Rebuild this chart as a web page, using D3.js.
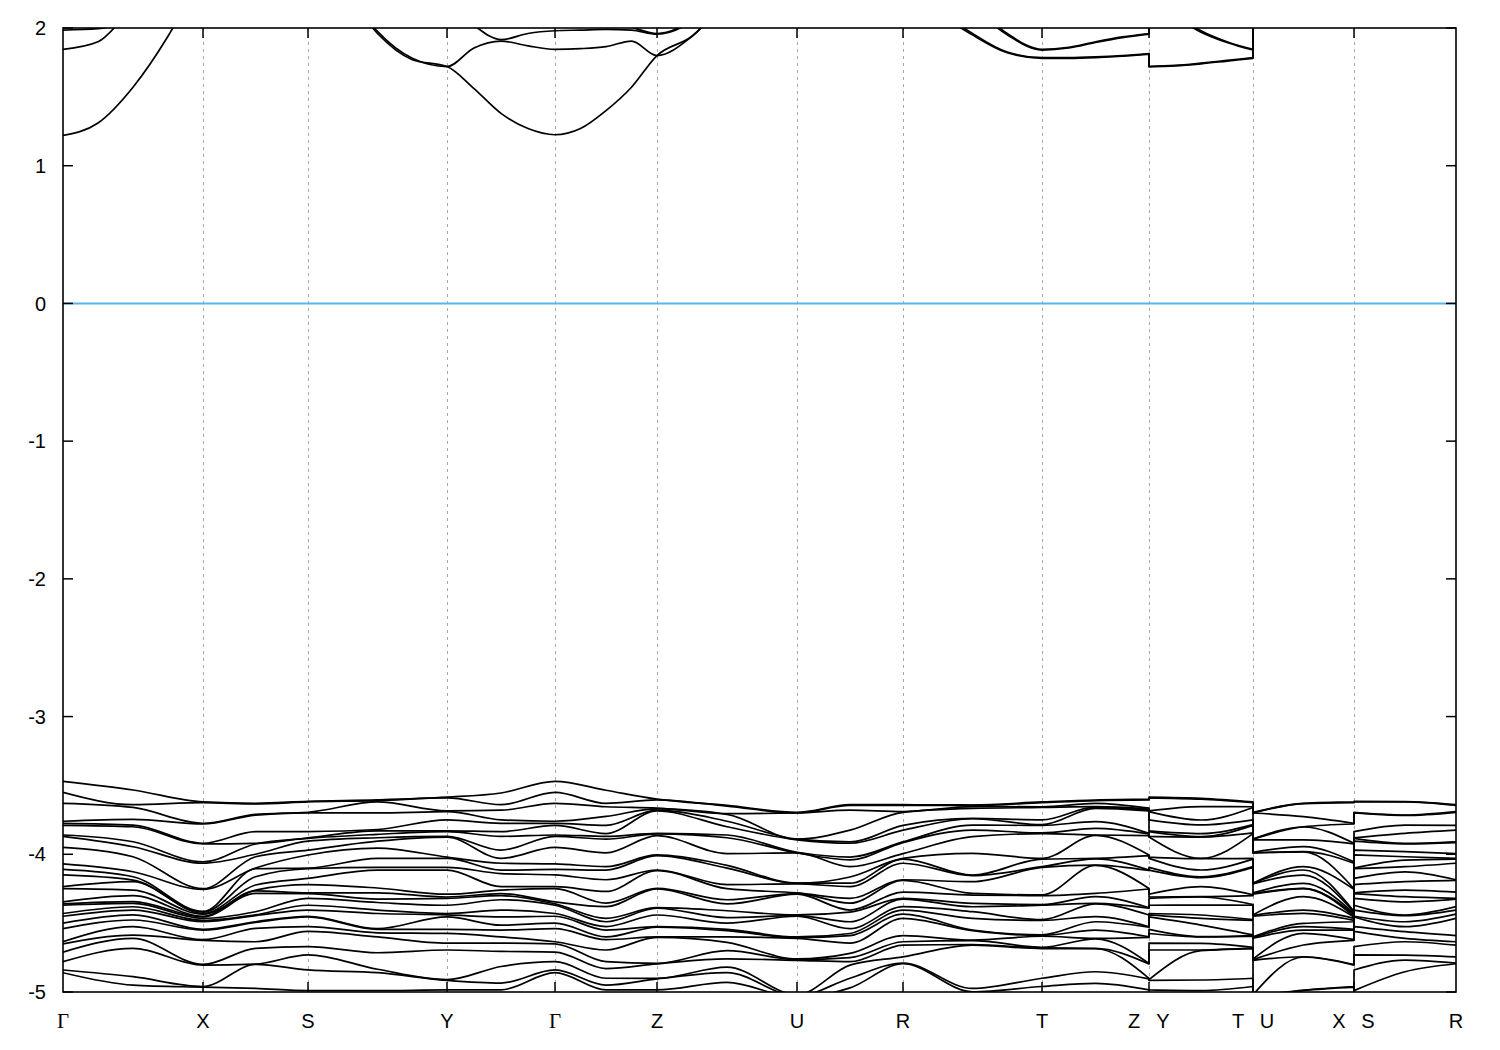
<!DOCTYPE html>
<html><head><meta charset="utf-8">
<script src="https://cdn.jsdelivr.net/npm/d3@7"></script>
<style>body{margin:0;background:#fff}svg{display:block}</style>
</head><body>
<svg id="chart" width="1500" height="1050"></svg>
<script>
// ---------- k-path (high-symmetry points) ----------
const kLabels = ["Γ","X","S","Y","Γ","Z","U","R","T","Z Y","T U","X S","R"];
const kTicks  = [0, 0.140, 0.245, 0.384, 0.492, 0.594, 0.734, 0.840, 0.979, 1.086, 1.190, 1.291, 1.393];
const yTicks  = [2, 1, 0, -1, -2, -3, -4, -5];

// ---------- valence bands: energies (eV) at high-symmetry points ----------
const eGamma = [-3.47,-3.55,-3.63,-3.76,-3.775,-3.79,-3.86,-3.87,-3.95,-4.07,-4.11,-4.15,-4.235,-4.25,-4.345,-4.36,-4.37,-4.43,-4.45,-4.50,-4.54,-4.635,-4.65,-4.71,-4.78,-4.84,-4.86,-5.05,-5.1,-5.2];
const eX = [-3.62,-3.625,-3.775,-3.78,-3.92,-3.925,-4.055,-4.065,-4.25,-4.255,-4.415,-4.42,-4.43,-4.435,-4.45,-4.455,-4.465,-4.48,-4.49,-4.545,-4.55,-4.62,-4.625,-4.80,-4.805,-4.96,-4.965,-5.05,-5.1,-5.2];
const eS = [-3.615,-3.62,-3.695,-3.70,-3.835,-3.88,-3.885,-3.905,-3.97,-4.005,-4.10,-4.105,-4.175,-4.22,-4.28,-4.285,-4.32,-4.37,-4.405,-4.45,-4.455,-4.525,-4.56,-4.67,-4.73,-4.84,-4.99,-5.05,-5.1,-5.2];
const eY = [-3.585,-3.59,-3.685,-3.69,-3.75,-3.83,-3.835,-3.87,-3.875,-4.02,-4.03,-4.095,-4.115,-4.29,-4.31,-4.32,-4.37,-4.43,-4.44,-4.455,-4.545,-4.575,-4.645,-4.695,-4.91,-4.915,-4.985,-5.05,-5.1,-5.2];
const eZ = [-3.60,-3.605,-3.665,-3.67,-3.68,-3.685,-3.848,-3.852,-3.865,-4.005,-4.01,-4.114,-4.118,-4.248,-4.252,-4.388,-4.392,-4.441,-4.526,-4.53,-4.599,-4.603,-4.792,-4.796,-4.901,-4.905,-4.985,-5.05,-5.1,-5.2];
const eU = [-3.695,-3.70,-3.70,-3.89,-3.89,-3.895,-3.985,-3.99,-3.99,-4.21,-4.21,-4.215,-4.28,-4.285,-4.29,-4.44,-4.445,-4.45,-4.60,-4.605,-4.61,-4.76,-4.765,-4.77,-5.02,-5.03,-5.04,-5.05,-5.1,-5.2];
const eR = [-3.64,-3.645,-3.69,-3.695,-3.79,-3.825,-3.91,-3.915,-3.995,-4.03,-4.035,-4.065,-4.185,-4.19,-4.275,-4.32,-4.325,-4.38,-4.405,-4.435,-4.465,-4.59,-4.635,-4.66,-4.745,-4.79,-4.795,-5.05,-5.1,-5.2];
const eT = [-3.62,-3.625,-3.655,-3.66,-3.75,-3.785,-3.79,-3.845,-3.85,-4.03,-4.035,-4.09,-4.095,-4.295,-4.30,-4.365,-4.37,-4.475,-4.48,-4.585,-4.59,-4.595,-4.675,-4.68,-4.685,-4.90,-4.96,-5.05,-5.1,-5.2];

// ---------- valence bands: energies at segment midpoints ----------
const eGX = [-3.533,-3.64,-3.66,-3.746,-3.788,-3.80,-3.909,-3.945,-4.018,-4.127,-4.163,-4.187,-4.199,-4.26,-4.30,-4.344,-4.357,-4.381,-4.405,-4.44,-4.477,-4.526,-4.587,-4.611,-4.683,-4.889,-4.95,-5.05,-5.1,-5.2];
const eXS = [-3.63,-3.635,-3.71,-3.715,-3.836,-3.921,-3.925,-4.0,-4.018,-4.10,-4.105,-4.163,-4.223,-4.26,-4.265,-4.284,-4.417,-4.44,-4.445,-4.49,-4.495,-4.538,-4.635,-4.683,-4.797,-4.80,-4.974,-5.05,-5.1,-5.2];
const eSY = [-3.605,-3.61,-3.62,-3.70,-3.82,-3.83,-3.855,-3.88,-3.905,-3.955,-4.03,-4.095,-4.115,-4.245,-4.28,-4.325,-4.35,-4.405,-4.43,-4.54,-4.545,-4.57,-4.60,-4.715,-4.835,-4.86,-4.99,-5.05,-5.1,-5.2];
const eYG = [-3.555,-3.64,-3.68,-3.75,-3.775,-3.835,-3.87,-3.97,-4.03,-4.065,-4.115,-4.14,-4.235,-4.26,-4.285,-4.30,-4.33,-4.405,-4.455,-4.515,-4.55,-4.60,-4.645,-4.705,-4.815,-4.935,-4.985,-5.05,-5.1,-5.2];
const eGZ = [-3.535,-3.63,-3.655,-3.725,-3.79,-3.85,-3.87,-3.89,-3.99,-4.09,-4.115,-4.185,-4.27,-4.355,-4.38,-4.465,-4.49,-4.525,-4.55,-4.60,-4.62,-4.695,-4.78,-4.83,-4.90,-4.95,-4.985,-5.05,-5.1,-5.2];
const eZU = [-3.645,-3.65,-3.705,-3.71,-3.76,-3.80,-3.86,-3.88,-3.995,-4.08,-4.10,-4.22,-4.25,-4.33,-4.36,-4.41,-4.46,-4.50,-4.545,-4.555,-4.60,-4.64,-4.70,-4.76,-4.82,-4.86,-4.93,-5.05,-5.1,-5.2];
const eUR = [-3.64,-3.645,-3.68,-3.825,-3.91,-3.92,-4.02,-4.04,-4.09,-4.165,-4.21,-4.235,-4.32,-4.355,-4.405,-4.42,-4.49,-4.54,-4.575,-4.59,-4.645,-4.72,-4.75,-4.78,-4.805,-4.90,-4.97,-5.05,-5.1,-5.2];
const eRT = [-3.642,-3.645,-3.654,-3.667,-3.739,-3.742,-3.788,-3.824,-3.872,-3.993,-4.151,-4.155,-4.199,-4.284,-4.296,-4.357,-4.381,-4.417,-4.465,-4.55,-4.555,-4.623,-4.627,-4.655,-4.659,-4.974,-4.998,-5.05,-5.1,-5.2];
const eTZ = [-3.606,-3.61,-3.63,-3.654,-3.657,-3.667,-3.763,-3.812,-3.86,-3.863,-4.03,-4.033,-4.078,-4.081,-4.284,-4.308,-4.357,-4.36,-4.453,-4.49,-4.55,-4.611,-4.614,-4.683,-4.686,-4.853,-4.938,-5.05,-5.1,-5.2];
const eYT = [-3.594,-3.60,-3.654,-3.751,-3.787,-3.85,-3.872,-3.875,-4.03,-4.032,-4.114,-4.163,-4.17,-4.235,-4.308,-4.31,-4.369,-4.441,-4.465,-4.514,-4.598,-4.60,-4.647,-4.695,-4.70,-4.913,-4.99,-5.05,-5.1,-5.2];
const eUX = [-3.63,-3.632,-3.727,-3.80,-3.802,-3.896,-3.945,-3.981,-3.983,-4.09,-4.114,-4.151,-4.211,-4.247,-4.249,-4.308,-4.405,-4.429,-4.502,-4.526,-4.55,-4.574,-4.659,-4.744,-4.746,-4.986,-4.99,-5.05,-5.1,-5.2];
const eSR = [-3.618,-3.62,-3.715,-3.718,-3.788,-3.848,-3.921,-3.924,-3.981,-4.018,-4.042,-4.09,-4.127,-4.199,-4.26,-4.308,-4.345,-4.441,-4.445,-4.49,-4.526,-4.562,-4.611,-4.635,-4.732,-4.768,-4.853,-5.05,-5.1,-5.2];

// ---------- conduction bands: energies at quarter points along each sub-path ----------
const cb1 = [
  [1.22,1.31,1.57,1.94,2.4, 2.6,2.8,2.8,2.6, 2.3,1.96,1.77,1.72, 1.56,1.38,1.27,1.225, 1.27,1.40,1.57,1.80, 1.94,2.2,2.4,2.5, 2.6,2.6,2.5,2.4, 2.12,1.95,1.82,1.78, 1.78,1.785,1.795,1.81],
  [1.72,1.725,1.74,1.76,1.78],
  [2.5,2.5,2.45,2.42,2.4],
  [2.6,2.6,2.5,2.45,2.4]];
const cb2 = [
  [1.845,1.90,2.15,2.35,2.5, 2.7,2.9,2.9,2.7, 2.32,1.975,1.78,1.72, 1.855,1.905,1.87,1.845, 1.85,1.865,1.905,1.80, 1.94,2.2,2.4,2.5, 2.6,2.6,2.5,2.4, 2.14,1.96,1.825,1.785, 1.785,1.79,1.80,1.815],
  [1.72,1.728,1.745,1.765,1.785],
  [2.55,2.55,2.5,2.5,2.5],
  [2.7,2.7,2.6,2.5,2.4]];
const cb3 = [
  [1.985,1.995,2.1,2.4,2.7, 2.9,3.0,3.0,2.9, 2.7,2.5,2.3,2.2, 2.02,1.915,1.96,1.98, 1.985,1.99,1.985,1.955, 2.05,2.3,2.5,2.6, 2.7,2.7,2.6,2.5, 2.35,2.15,1.95,1.84, 1.855,1.895,1.93,1.955],
  [2.2,2.08,1.97,1.895,1.84],
  [2.6,2.6,2.6,2.7,2.7],
  [2.9,2.8,2.7,2.6,2.5]];
const cb4 = [
  [2.1,2.2,2.4,2.7,2.9, 3.0,3.1,3.1,3.0, 2.9,2.7,2.5,2.4, 2.3,2.2,2.12,2.1, 2.08,2.05,2.005,1.96, 2.06,2.32,2.52,2.62, 2.72,2.72,2.62,2.52, 2.37,2.17,1.96,1.845, 1.86,1.90,1.935,1.96],
  [2.4,2.1,1.98,1.9,1.845],
  [2.7,2.7,2.7,2.8,2.8],
  [3.0,2.9,2.8,2.7,2.6]];

// ---------- layout ----------
const L = 63, R = 1456, T = 28, B = 992;
const svg = d3.select("#chart");
const x = d3.scaleLinear().domain([kTicks[0], kTicks[kTicks.length-1]]).range([L, R]);
const y = d3.scaleLinear().domain([-5, 2]).range([B, T]);

svg.append("defs").append("clipPath").attr("id","plotclip")
  .append("rect").attr("x",L).attr("y",T).attr("width",R-L).attr("height",B-T);

// vertical dashed grid at interior high-symmetry points
svg.append("g").selectAll("line").data(kTicks.slice(1,-1)).join("line")
  .attr("x1",d=>x(d)).attr("x2",d=>x(d)).attr("y1",T).attr("y2",B)
  .attr("stroke","#a8a8a8").attr("stroke-width",1).attr("stroke-dasharray","3,4")
  .attr("shape-rendering","crispEdges");

// Fermi level
svg.append("line").attr("x1",L).attr("x2",R).attr("y1",y(0)).attr("y2",y(0))
  .attr("stroke","#56b4e9").attr("stroke-width",2);

// band path generator
const line = d3.line().x(d=>x(d.k)).y(d=>y(d.e)).curve(d3.curveMonotoneX);
const joinParts = parts => parts.map((p,i)=> i===0 ? p : "L" + p.slice(1)).join("");
const desc = a => d3.sort(a, (p,q)=>q-p);

// valence sub-paths: [tick index or null (=midpoint), energies]
const valencePaths = [
  [[0,eGamma],[null,eGX],[1,eX],[null,eXS],[2,eS],[null,eSY],[3,eY],[null,eYG],[4,eGamma],[null,eGZ],[5,eZ],[null,eZU],[6,eU],[null,eUR],[7,eR],[null,eRT],[8,eT],[null,eTZ],[9,eZ]],
  [[9,eY],[null,eYT],[10,eT]],
  [[10,eU],[null,eUX],[11,eX]],
  [[11,eS],[null,eSR],[12,eR]]
];
const nBands = eGamma.length;
const gBands = svg.append("g").attr("clip-path","url(#plotclip)")
  .attr("fill","none").attr("stroke","#000").attr("stroke-width",1.7).attr("stroke-linejoin","round");

for (let b = 0; b < nBands; b++) {
  const parts = valencePaths.map(path => {
    const pts = path.map((n,j) => {
      const k = n[0] !== null ? kTicks[n[0]] : (kTicks[path[j-1][0]] + kTicks[path[j+1][0]]) / 2;
      return {k, e: desc(n[1])[b]};
    });
    return line(pts);
  });
  gBands.append("path").attr("d", joinParts(parts));
}

// conduction bands on quarter-point grid
const cbSubTicks = [[0,1,2,3,4,5,6,7,8,9],[9,10],[10,11],[11,12]];
const quarterKs = ticks => {
  const ks = [];
  for (let i = 0; i < ticks.length-1; i++) {
    const a = kTicks[ticks[i]], c = kTicks[ticks[i+1]];
    for (let q = 0; q < 4; q++) ks.push(a + (c-a)*q/4);
  }
  ks.push(kTicks[ticks[ticks.length-1]]);
  return ks;
};
[cb1, cb2, cb3, cb4].forEach(band => {
  const parts = cbSubTicks.map((ticks, p) => {
    const ks = quarterKs(ticks);
    return line(ks.map((k,i) => ({k, e: band[p][i]})));
  });
  gBands.append("path").attr("d", joinParts(parts));
});

// frame
svg.append("rect").attr("x",L).attr("y",T).attr("width",R-L).attr("height",B-T)
  .attr("fill","none").attr("stroke","#000").attr("stroke-width",1.6);

// y ticks (inward, both sides)
const gy = svg.append("g").attr("stroke","#000").attr("stroke-width",1.5);
yTicks.forEach(v => {
  gy.append("line").attr("x1",L).attr("x2",L+10).attr("y1",y(v)).attr("y2",y(v));
  gy.append("line").attr("x1",R).attr("x2",R-10).attr("y1",y(v)).attr("y2",y(v));
});
// x ticks (inward, top and bottom)
kTicks.slice(1,-1).forEach(k => {
  gy.append("line").attr("x1",x(k)).attr("x2",x(k)).attr("y1",B).attr("y2",B-10);
  gy.append("line").attr("x1",x(k)).attr("x2",x(k)).attr("y1",T).attr("y2",T+10);
});

// y tick labels
svg.append("g").selectAll("text").data(yTicks).join("text")
  .attr("x",L-17).attr("y",d=>y(d)).attr("dy","0.36em").attr("text-anchor","end")
  .attr("font-family","'Liberation Sans', Arial, sans-serif").attr("font-size",20)
  .text(d=>String(d));

// x tick labels (split double labels at path breaks)
const gx = svg.append("g").attr("font-size",20).attr("text-anchor","middle");
kLabels.forEach((lab, i) => {
  const parts = lab.split(" ");
  parts.forEach((p, j) => {
    const off = parts.length === 1 ? 0 : (j === 0 ? -15 : 14);
    gx.append("text").attr("x", x(kTicks[i]) + off).attr("y", 1028)
      .attr("font-family", p === "Γ" ? "'Liberation Serif', 'Times New Roman', serif" : "'Liberation Sans', Arial, sans-serif")
      .attr("font-size", p === "Γ" ? 21 : 20)
      .text(p);
  });
});
</script>
</body></html>
